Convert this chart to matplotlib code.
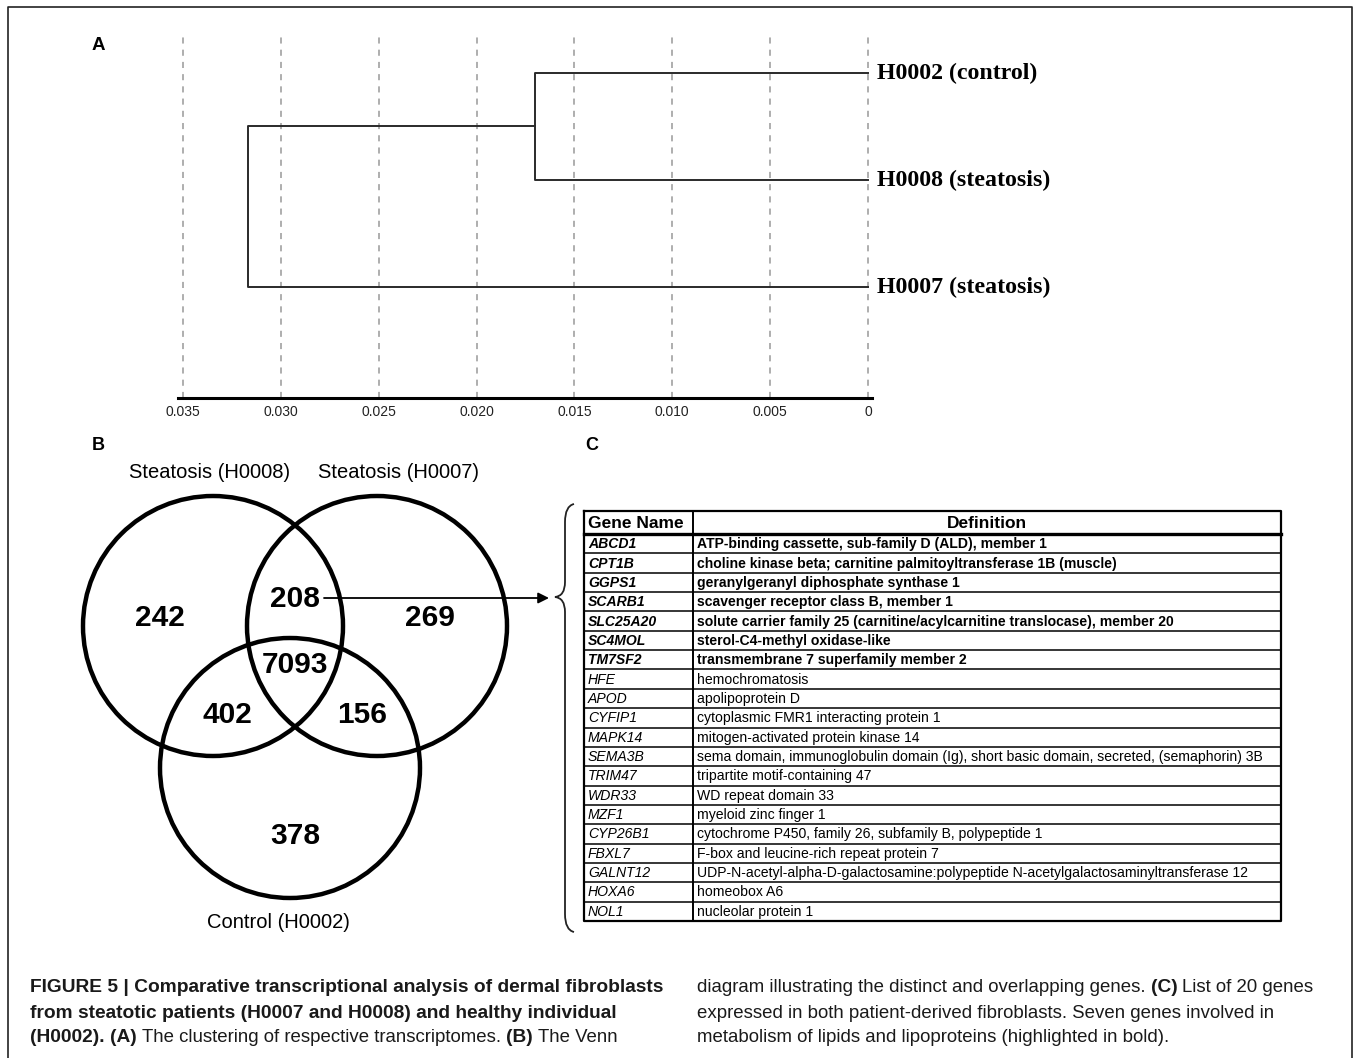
import matplotlib.pyplot as plt
from matplotlib.patches import Circle, PathPatch
from matplotlib.path import Path

# Dendrogram (panel A)
leaf_names = ['H0002 (control)', 'H0008 (steatosis)', 'H0007 (steatosis)']
merge_heights = [0.017, 0.0317]         # H0002+H0008, then with H0007
dist_ticks = [0.035, 0.030, 0.025, 0.020, 0.015, 0.010, 0.005, 0]
dist_ticklabels = ['0.035', '0.030', '0.025', '0.020', '0.015', '0.010', '0.005', '0']

# Venn counts (panel B)
set_names = ['Steatosis (H0008)', 'Steatosis (H0007)', 'Control (H0002)']
only_h0008 = 242
only_h0007 = 269
only_h0002 = 378
h0008_h0007 = 208
h0008_h0002 = 402
h0007_h0002 = 156
all_three = 7093

# Gene table (panel C)
genes = ['ABCD1', 'CPT1B', 'GGPS1', 'SCARB1', 'SLC25A20', 'SC4MOL', 'TM7SF2',
         'HFE', 'APOD', 'CYFIP1', 'MAPK14', 'SEMA3B', 'TRIM47', 'WDR33', 'MZF1',
         'CYP26B1', 'FBXL7', 'GALNT12', 'HOXA6', 'NOL1']
definitions = [
    'ATP-binding cassette, sub-family D (ALD), member 1',
    'choline kinase beta; carnitine palmitoyltransferase 1B (muscle)',
    'geranylgeranyl diphosphate synthase 1',
    'scavenger receptor class B, member 1',
    'solute carrier family 25 (carnitine/acylcarnitine translocase), member 20',
    'sterol-C4-methyl oxidase-like',
    'transmembrane 7 superfamily member 2',
    'hemochromatosis',
    'apolipoprotein D',
    'cytoplasmic FMR1 interacting protein 1',
    'mitogen-activated protein kinase 14',
    'sema domain, immunoglobulin domain (Ig), short basic domain, secreted, (semaphorin) 3B',
    'tripartite motif-containing 47',
    'WD repeat domain 33',
    'myeloid zinc finger 1',
    'cytochrome P450, family 26, subfamily B, polypeptide 1',
    'F-box and leucine-rich repeat protein 7',
    'UDP-N-acetyl-alpha-D-galactosamine:polypeptide N-acetylgalactosaminyltransferase 12',
    'homeobox A6',
    'nucleolar protein 1',
]
lipid_related = [True] * 7 + [False] * 13

caption_left = [
    [('FIGURE 5 | Comparative transcriptional analysis of dermal fibroblasts', 'bold')],
    [('from steatotic patients (H0007 and H0008) and healthy individual', 'bold')],
    [('(H0002).', 'bold'), ('(A)', 'bold'), ('The clustering of respective transcriptomes.', 'normal'),
     ('(B)', 'bold'), ('The Venn', 'normal')],
]
caption_right = [
    [('diagram illustrating the distinct and overlapping genes.', 'normal'), ('(C)', 'bold'),
     ('List of 20 genes', 'normal')],
    [('expressed in both patient-derived fibroblasts. Seven genes involved in', 'normal')],
    [('metabolism of lipids and lipoproteins (highlighted in bold).', 'normal')],
]

W, H = 1356, 1058
fig = plt.figure(figsize=(W / 100, H / 100), dpi=100)
base = fig.add_axes([0, 0, 1, 1])
base.set_xlim(0, W)
base.set_ylim(H, 0)
base.axis('off')

SANS = ['Liberation Sans', 'DejaVu Sans']
SERIF = ['Liberation Serif', 'DejaVu Serif']

# outer frame
base.plot([8, 8, 1352, 1352], [H, 7, 7, H], color='#222222', lw=1.2)

# ---- panel A: dendrogram ----
px_per_unit = 19571.0
ax_left, ax_right = 178, 872
ax_top, ax_bot = 35, 398
dax = fig.add_axes([ax_left / W, 1 - ax_bot / H, (ax_right - ax_left) / W, (ax_bot - ax_top) / H])
dax.set_xlim(0.035 + (183 - ax_left) / px_per_unit, -(ax_right - 868) / px_per_unit)
dax.set_ylim(3.037, -0.355)
for s in ['top', 'right', 'left']:
    dax.spines[s].set_visible(False)
dax.spines['bottom'].set_linewidth(2.2)
dax.set_yticks([])
dax.set_xticks(dist_ticks)
dax.set_xticklabels(dist_ticklabels, family=SANS, fontsize=10, color='#222222')
dax.tick_params(axis='x', length=0, pad=5)
dax.patch.set_alpha(0)
for t in dist_ticks:
    dax.axvline(t, color='#999999', lw=1.1, ls=(0, (4, 4)), zorder=0)

h1, h2 = merge_heights
lc, lw = '#2a2a2a', 1.4
dax.plot([0, h1, h1, 0], [0, 0, 1, 1], color=lc, lw=lw)
dax.plot([h1, h2, h2, 0], [0.5, 0.5, 2, 2], color=lc, lw=lw)
for i, name in enumerate(leaf_names):
    dax.text(-0.00045, i, name, family=SERIF, fontweight='bold', fontsize=17.2,
             va='center', ha='left', clip_on=False)

base.text(92, 45, 'A', family=SANS, fontweight='bold', fontsize=13.5, va='center')
base.text(92, 445, 'B', family=SANS, fontweight='bold', fontsize=13, va='center')
base.text(585, 445, 'C', family=SANS, fontweight='bold', fontsize=13, va='center')

# ---- panel B: Venn diagram ----
centers = [(213, 626), (377, 626), (290, 768)]
for c in centers:
    base.add_patch(Circle(c, 130, fill=False, lw=3.2, ec='black'))
base.text(210, 472, set_names[0], family=SANS, fontsize=14.5, ha='center', va='center')
base.text(398, 472, set_names[1], family=SANS, fontsize=14.5, ha='center', va='center')
base.text(278, 923, set_names[2], family=SANS, fontsize=14.5, ha='center', va='center')

counts = [(only_h0008, 160, 618), (only_h0007, 430, 618), (only_h0002, 295, 836),
          (h0008_h0007, 295, 599), (h0008_h0002, 227, 715), (h0007_h0002, 362, 715),
          (all_three, 295, 665)]
for n, x, y in counts:
    base.text(x, y, str(n), family=SANS, fontweight='bold', fontsize=21.5,
              ha='center', va='center')

base.annotate('', xy=(549, 598), xytext=(324, 598),
              arrowprops=dict(arrowstyle='-|>', lw=1.3, color='black', mutation_scale=16,
                              shrinkA=0, shrinkB=0))

# curly brace in front of the table
verts = [(574, 504), (565, 506), (565, 522), (565, 582), (565, 596), (555, 597),
         (565, 598), (565, 612), (565, 914), (565, 930), (574, 932)]
codes = [Path.MOVETO, Path.CURVE3, Path.CURVE3, Path.LINETO, Path.CURVE3, Path.CURVE3,
         Path.CURVE3, Path.CURVE3, Path.LINETO, Path.CURVE3, Path.CURVE3]
base.add_patch(PathPatch(Path(verts, codes), fill=False, lw=1.3, ec='#222222'))

# ---- panel C: table ----
tl, tr, tc = 584, 1281, 693
ttop, thead = 511, 534
row_h = (921 - thead) / len(genes)
tbot = thead + row_h * len(genes)
base.plot([tl, tr, tr, tl, tl], [ttop, ttop, tbot, tbot, ttop], color='black', lw=1.6)
base.plot([tc, tc], [ttop, tbot], color='black', lw=1.4)
base.plot([tl, tr], [thead, thead], color='black', lw=2.4)
for i in range(1, len(genes)):
    y = thead + i * row_h
    base.plot([tl, tr], [y, y], color='black', lw=1.1)
base.text(588, (ttop + thead) / 2 + 1, 'Gene Name', family=SANS, fontweight='bold',
          fontsize=12.5, va='center')
base.text((tc + tr) / 2, (ttop + thead) / 2 + 1, 'Definition', family=SANS, fontweight='bold',
          fontsize=12.5, va='center', ha='center')
for i, (g, d, b) in enumerate(zip(genes, definitions, lipid_related)):
    y = thead + (i + 0.5) * row_h + 0.5
    wt = 'bold' if b else 'normal'
    base.text(588, y, g, family=SANS, fontstyle='italic', fontweight=wt, fontsize=10.1,
              va='center')
    base.text(697, y, d, family=SANS, fontweight=wt, fontsize=10.1, va='center')

# ---- caption ----
renderer = fig.canvas.get_renderer()
cap_size = {'bold': 13.8, 'normal': 13.4}


def width_of(s, weight):
    t = base.text(0, 0, s, family=SANS, fontweight=weight, fontsize=cap_size[weight])
    w = t.get_window_extent(renderer).width
    t.remove()
    return w


def draw_runs(x0, y, runs):
    x = x0
    gap = width_of('x x', 'normal') - width_of('xx', 'normal')
    for s, weight in runs:
        t = base.text(x, y, s, family=SANS, fontweight=weight, fontsize=cap_size[weight],
                      va='center', ha='left', color='#1a1a1a')
        x += t.get_window_extent(renderer).width + gap


for i, runs in enumerate(caption_left):
    draw_runs(30, 988 + i * 25, runs)
for i, runs in enumerate(caption_right):
    draw_runs(697, 988 + i * 25, runs)

fig.savefig('out.png', dpi=100)
